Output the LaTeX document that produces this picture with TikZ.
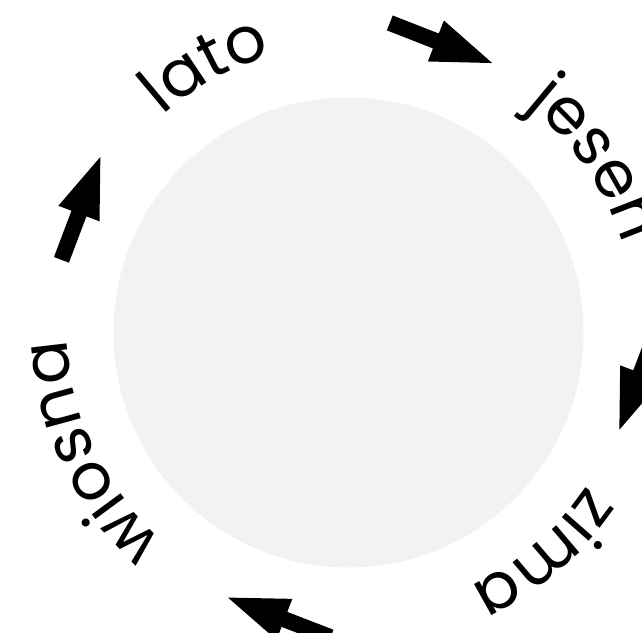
\documentclass[tikz,border=0pt]{standalone}
\usepackage{fontspec}
\newfontfamily\seasonfont{Poppins}
\usetikzlibrary{decorations.text}
\definecolor{discgrey}{HTML}{F2F2F2}
\tikzset{
  blockarrow/.pic={
    \fill[black] (-55,-8) -- (-5.5,-8) -- (-5.5,-22) -- (55,0) -- (-5.5,22) -- (-5.5,8) -- (-55,8) -- cycle;
  },
  seasonlabel/.style={
    decoration={text along path, text={|\seasonfont\fontsize{65}{65}\selectfont|#1}, text align=center},
    decorate
  }
}
\begin{document}
\begin{tikzpicture}[x=1pt,y=1pt]
\useasboundingbox (0,0) rectangle (642,632);
\clip (0,0) rectangle (642,632);
\fill[white] (0,0) rectangle (642,632);
\coordinate (ring) at (351,304);
\fill[discgrey] (348.5,299.5) circle[radius=235pt];
% labels along the ring (clockwise)
\path[seasonlabel=lato]   (ring) ++(148.9:284pt) arc[start angle=148.9, end angle=88.9, radius=284pt];
\path[seasonlabel=jesen]  (ring) ++(64.5:284pt)  arc[start angle=64.5, end angle=4.5, radius=284pt];
\path[seasonlabel=zima]   (ring) ++(-19.5:284pt) arc[start angle=-19.5, end angle=-79.5, radius=284pt];
\path[seasonlabel=wiosna] (ring) ++(235.5:284pt) arc[start angle=235.5, end angle=175.5, radius=284pt];
% arrows
\pic[rotate=-21.4] at (441,589) {blockarrow};
\pic[rotate=69.3] at (80.9,423.6) {blockarrow};
\pic[rotate=158.9] at (279.3,14.6) {blockarrow};
\pic[rotate=-110.7] at (638.8,253.7) {blockarrow};
\end{tikzpicture}
\end{document}
